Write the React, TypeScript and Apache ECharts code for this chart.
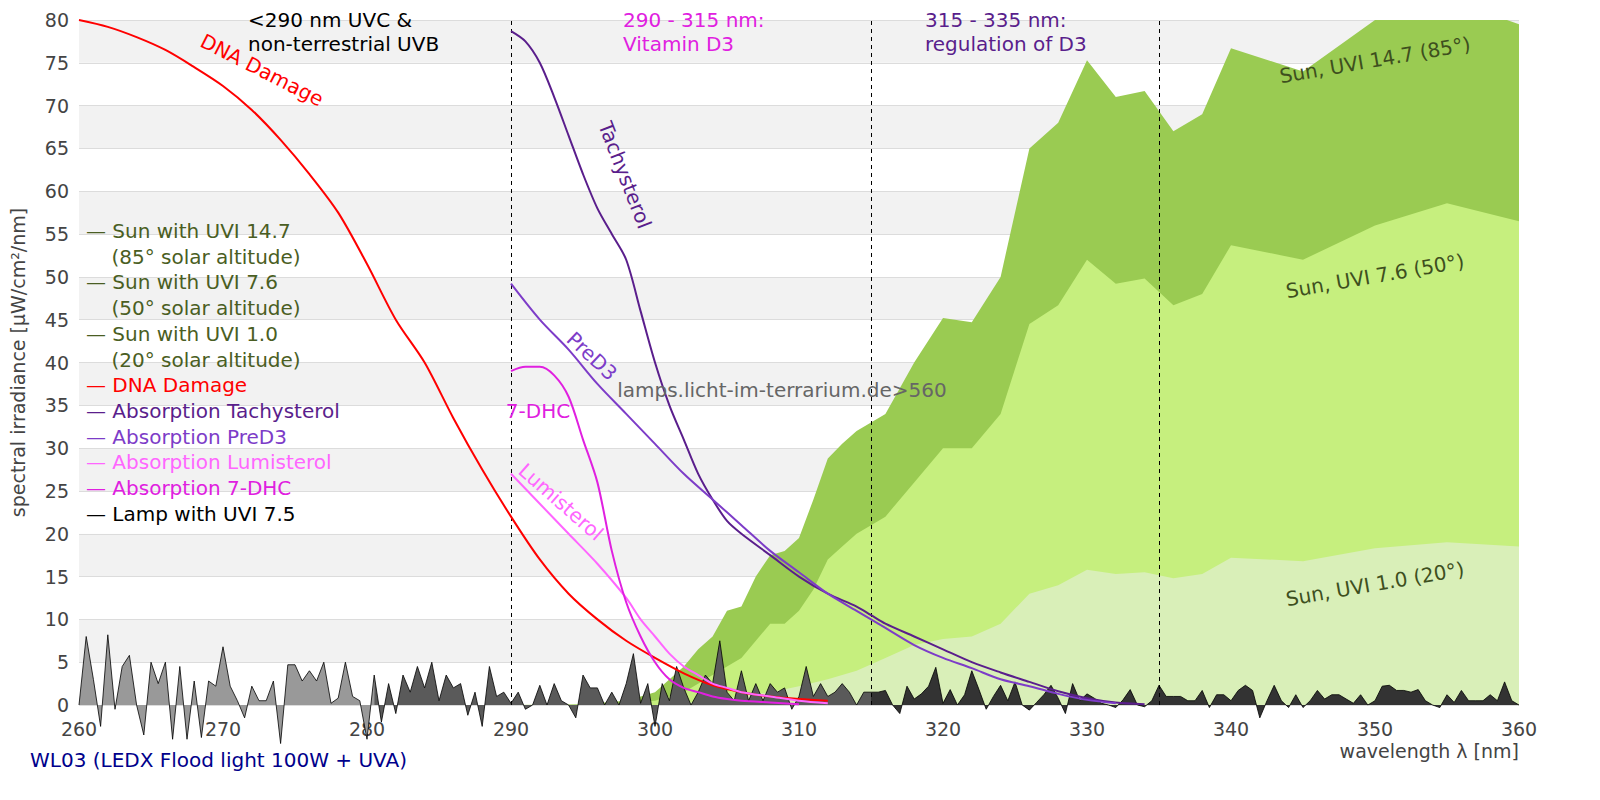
import React, { useEffect, useRef } from "react";
import * as echarts from "echarts";

const dnaX = [260,262,264,266,268,270,272,274,276,278,280,282,284,286,288,290,292,294,296,298,300,302,304,306,308,310,312];
const dnaY = [80,79.2,78,76.5,74.5,72.3,69.5,66,62,57.5,51.5,45,40,33.5,27.5,22,17,13,10,7.5,5.5,3.7,2.3,1.5,1,0.7,0.5];
const tachX = [290,291,292,293,294,295,296,297,298,299,300,301,302,303,304,305,306,308,310,312,314,315,316,318,320,322,324,326,328,330,332,334];
const tachY = [78.7,77.5,75,71,66.5,62,58,55,52,46,40,35,31,27,24,21.5,20,17.5,15,13,11.5,10.5,9.5,8,6.5,5,3.8,2.7,1.6,0.8,0.3,0.1];
const preX = [290,292,294,296,298,300,302,304,306,308,310,312,314,315,316,318,320,322,324,326,328,330,332];
const preY = [49.2,45,41.5,37.5,34,30.5,27,24,21,18,15.5,13,11,10,9,7,5.5,4.3,3,2.2,1.3,0.6,0.2];
const dhcX = [290,291,292,293,294,295,296,297,298,299,300,301,302,303,304,305,306,308,310];
const dhcY = [39,39.5,39.5,38.5,36,31,26,18,12,8,5,3,2,1.5,1,0.7,0.5,0.3,0.1];
const lumiX = [290,292,294,296,298,299,300,301,302,303,304,305,306,308,310,312];
const lumiY = [27,23.5,20,16.5,12.5,10,8,6,4.5,3.5,2.5,2,1.5,1,0.5,0.2];

const sun147X = [290,295,298,300,302,303,304,305,306,307,308,309,310,311,312,313,314,315,316,318,320,322,324,326,328,330,332,334,336,338,340,345,350,355,360];
const sun147Y = [0,0.1,0.5,1.5,4.5,6.5,8,11,11.5,15,17.5,18,19.5,24,28.8,30.5,32,33,34,40,45.2,44.7,50,65,68,75.3,71,71.7,67,69,76.7,74,80,82.5,79.5];
const sun76X = [296,300,302,304,306,308,309,310,311,312,313,314,315,316,318,320,322,324,326,328,330,332,334,336,338,340,345,350,355,360];
const sun76Y = [0,0.5,1.5,3.5,5.5,9.5,9.5,11,13.5,17,18.5,20,21,22,26,30,30,34,44.5,46.7,52,49.2,49.8,46.7,48,53.7,52,56,58.6,56.5];
const sun10X = [300,304,308,310,312,314,316,318,320,322,324,326,328,330,332,334,336,338,340,345,350,355,360];
const sun10Y = [0,0.5,1.5,2.2,3,4,5.5,7,7.7,8,9.5,13,14,15.8,15.3,15.5,14.8,15.3,17.2,16.8,18.3,19,18.5];

// lamp spectrum at 0.5 nm steps from 260 to 360
const lampStart = 260;
const lampStep = 0.5;
const lampY = [
0,8,3,-2.5,8.2,-0.5,4.5,5.8,0,-3.5,5,2.5,5,-4,4.5,-4,2.8,-3.8,2.8,2.2,6.8,2.2,0.5,-1.5,2.2,0.5,0.5,2.8,-4.5,4.7,4.7,2.8,4,2.8,5,0.2,0.8,5,1,0.5,
-4,3.5,-2,2.5,-1,3.5,1.5,4.5,2,5,0.5,3.5,2,2.5,-1.2,1.5,-2.5,4.5,1,1.5,0.2,1.5,-0.5,0,2.3,0,2.5,0.5,0,-1.5,3.5,2,2,0,1.5,0,2.5,6,0.2,2.5,
-2.5,2.5,0.5,4.5,2,0,1.5,3.5,2.5,7.5,1.5,0.5,4,0.5,2.5,0.5,2.5,1.5,2,-0.5,1,4.5,1,2.5,1,1.5,2.5,1.5,0,1.5,1.5,
1.5,1.7,0,-1,2.2,0.7,1.3,2.2,4.4,0.2,1.8,0,1.2,4,1.8,-0.5,1,2.3,0.5,2.7,0,-0.6,0.3,1.2,2.3,0.8,-1,2.5,0.5,1.3,0.8,0.2,0,-0.3,0.6,1.8,0,-0.2,0.5,
2.3,1,1,1,0.5,0.5,1.7,-0.3,1.2,1.2,0.5,1.7,2.3,1.7,-1.5,0.5,2.3,0.5,-0.3,1.2,-0.3,0.5,1.7,0.7,1.2,1.2,0.7,0.2,1.2,0,0.5,2.2,2.3,1.7,1.7,1.5,1.8,0.5,0,-0.3,1.2,0.3,1.7,0.5,0.5,0.5,1.2,0.5,2.7,0.5,0
];

const yTicks = [0,5,10,15,20,25,30,35,40,45,50,55,60,65,70,75,80];
const xTicks = [260,270,280,290,300,310,320,330,340,350,360];
const regionLines = [290, 315, 335];

const pairs = (xs: number[], ys: number[]) => xs.map((x, i) => [x, ys[i]]);
const lampPairs = (from: number, to: number) =>
  lampY.map((y, i) => [lampStart + i * lampStep, y]).filter((p) => p[0] >= from && p[0] <= to);

const FONT = "DejaVu Sans";
const IND = "\u00a0\u00a0\u00a0\u00a0";

export default function App() {
  const ref = useRef<HTMLDivElement>(null);
  useEffect(() => {
    const chart = echarts.init(ref.current!, null, { renderer: "svg" });
    const line = (name: string, data: number[][], color: string, w = 2) => ({
      type: "line", name, data, showSymbol: false, symbol: "none", smooth: 0.3,
      lineStyle: { color, width: w }, z: 5,
    });
    const area = (name: string, data: number[][], color: string, z: number) => ({
      type: "line", name, data, showSymbol: false, symbol: "none",
      lineStyle: { width: 0 }, areaStyle: { color, opacity: 1 }, z,
    });
    const lamp = (data: number[][], color: string) => ({
      type: "line", data, showSymbol: false, symbol: "none", clip: false,
      lineStyle: { color: "#000", width: 0.8 }, areaStyle: { color, opacity: 1 }, z: 4,
    });
    const legend = [
      ["— Sun with UVI 14.7", "#4a5e23"], [IND + "(85° solar altitude)", "#4a5e23"],
      ["— Sun with UVI 7.6", "#4a5e23"], [IND + "(50° solar altitude)", "#4a5e23"],
      ["— Sun with UVI 1.0", "#4a5e23"], [IND + "(20° solar altitude)", "#4a5e23"],
      ["— DNA Damage", "#ff0000"], ["— Absorption Tachysterol", "#5a1e8c"],
      ["— Absorption PreD3", "#7d3cc8"], ["— Absorption Lumisterol", "#ff66ff"],
      ["— Absorption 7-DHC", "#e020e0"], ["— Lamp with UVI 7.5", "#000000"],
    ];
    const txt = (text: string, x: number, y: number, fill: string, size = 20, rot = 0, align = "center") => ({
      type: "text", x, y, rotation: rot, z: 50,
      style: { text, fill, font: `${size}px '${FONT}'`, align, verticalAlign: "middle" },
    });
    chart.setOption({
      animation: false,
      textStyle: { fontFamily: FONT },
      grid: { left: 79, right: 81, top: 20, bottom: 95 },
      xAxis: {
        type: "value", min: 260, max: 360, interval: 10,
        axisLine: { show: false }, axisTick: { show: false }, splitLine: { show: false },
        axisLabel: { fontSize: 19, color: "#444", margin: 14 },
        name: "wavelength λ [nm]", nameLocation: "end", nameGap: 0,
        nameTextStyle: { fontSize: 19, color: "#444", align: "right", verticalAlign: "top", padding: [36, 0, 0, 0] },
      },
      yAxis: {
        type: "value", min: 0, max: 80, interval: 5,
        axisLine: { show: false }, axisTick: { show: false },
        splitLine: { show: true, lineStyle: { color: "#dcdcdc" } },
        splitArea: { show: true, areaStyle: { color: ["#ffffff", "#f2f2f2"] } },
        axisLabel: { fontSize: 19, color: "#444", margin: 10 },
        name: "spectral irradiance [µW/cm²/nm]", nameLocation: "middle", nameGap: 52,
        nameTextStyle: { fontSize: 19, color: "#444" },
      },
      series: [
        area("Sun 14.7", pairs(sun147X, sun147Y), "#9acb52", 1),
        area("Sun 7.6", pairs(sun76X, sun76Y), "#c6ef7e", 2),
        area("Sun 1.0", pairs(sun10X, sun10Y), "#d9efb8", 3),
        lamp(lampPairs(260, 280.5), "#999999"),
        lamp(lampPairs(280.5, 315), "#5a5a5a"),
        lamp(lampPairs(315, 360), "#333333"),
        line("DNA Damage", pairs(dnaX, dnaY), "#ff0000"),
        line("Tachysterol", pairs(tachX, tachY), "#5a1e8c"),
        line("PreD3", pairs(preX, preY), "#7d3cc8"),
        line("Lumisterol", pairs(lumiX, lumiY), "#ff66ff"),
        line("7-DHC", pairs(dhcX, dhcY), "#e020e0"),
        {
          type: "line", data: [], markLine: {
            silent: true, symbol: "none", label: { show: false },
            lineStyle: { color: "#000", type: [4, 4], width: 1 },
            data: regionLines.map((x) => ({ xAxis: x })),
          },
        },
      ],
      graphic: [
        ...legend.map((l, i) => txt(l[0], 86, 231 + i * 25.7, l[1], 20, 0, "left")),
        { type: "text", x: 248, y: 8, z: 50, style: { text: "<290 nm UVC &\nnon-terrestrial UVB", fill: "#000", font: `20px '${FONT}'`, lineHeight: 24 } },
        { type: "text", x: 623, y: 8, z: 50, style: { text: "290 - 315 nm:\nVitamin D3", fill: "#e020e0", font: `20px '${FONT}'`, lineHeight: 24 } },
        { type: "text", x: 925, y: 8, z: 50, style: { text: "315 - 335 nm:\nregulation of D3", fill: "#5a1e8c", font: `20px '${FONT}'`, lineHeight: 24 } },
        txt("DNA Damage", 262, 70, "#ff0000", 20, -0.47),
        txt("Tachysterol", 625, 175, "#5a1e8c", 20, -1.2),
        txt("PreD3", 592, 356, "#7d3cc8", 20, -0.75),
        txt("7-DHC", 538, 411, "#e020e0", 20, 0),
        txt("Lumisterol", 561, 502, "#ff66ff", 20, -0.72),
        txt("Sun, UVI 14.7 (85°)", 1375, 60, "#3e4f1e", 20, 0.17),
        txt("Sun, UVI 7.6 (50°)", 1375, 276, "#3e4f1e", 20, 0.17),
        txt("Sun, UVI 1.0 (20°)", 1375, 584, "#3e4f1e", 20, 0.17),
        txt("lamps.licht-im-terrarium.de>560", 782, 390, "#666666", 20, 0),
        txt("WL03 (LEDX Flood light 100W + UVA)", 30, 760, "#00008b", 20, 0, "left"),
      ],
    });
    return () => chart.dispose();
  }, []);
  return <div ref={ref} style={{ position: "fixed", left: 0, top: 0, width: 1600, height: 800, background: "#fff" }} />;
}
